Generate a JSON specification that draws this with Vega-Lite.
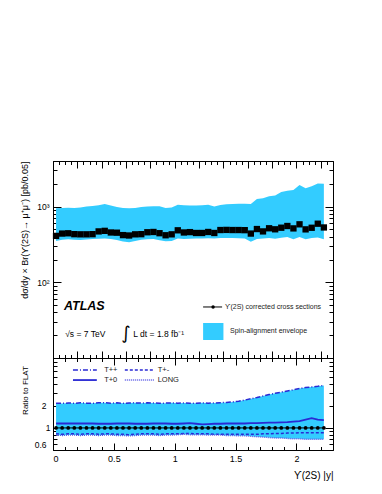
{
  "$schema": "https://vega.github.io/schema/vega-lite/v6.json",
  "padding": {"left": 19, "top": 160, "right": 10, "bottom": 5},
  "spacing": 0,
  "bounds": "flush",
  "config": {
    "font": "Liberation Sans",
    "view": {"stroke": "black", "strokeWidth": 1},
    "axis": {"domainColor": "black", "tickColor": "black", "labelColor": "black", "titleColor": "black", "labelFont": "Liberation Sans", "titleFont": "Liberation Sans", "titleFontWeight": "normal", "grid": false, "tickWidth": 1, "domainWidth": 1}
  },
  "datasets": {
    "xs": [
      {"x":0.025,"sigma":410,"lo":350,"hi":950},
      {"x":0.075,"sigma":440,"lo":365,"hi":960},
      {"x":0.125,"sigma":444,"lo":370,"hi":965},
      {"x":0.175,"sigma":432,"lo":365,"hi":960},
      {"x":0.225,"sigma":430,"lo":362,"hi":975},
      {"x":0.275,"sigma":430,"lo":368,"hi":1000},
      {"x":0.325,"sigma":432,"lo":372,"hi":1020},
      {"x":0.375,"sigma":470,"lo":375,"hi":1040},
      {"x":0.425,"sigma":478,"lo":380,"hi":1085},
      {"x":0.475,"sigma":455,"lo":372,"hi":1030},
      {"x":0.525,"sigma":452,"lo":362,"hi":990},
      {"x":0.575,"sigma":420,"lo":345,"hi":960},
      {"x":0.625,"sigma":415,"lo":338,"hi":950},
      {"x":0.675,"sigma":430,"lo":350,"hi":960},
      {"x":0.725,"sigma":432,"lo":365,"hi":985},
      {"x":0.775,"sigma":458,"lo":370,"hi":1000},
      {"x":0.825,"sigma":462,"lo":372,"hi":1010},
      {"x":0.875,"sigma":445,"lo":360,"hi":1010},
      {"x":0.925,"sigma":418,"lo":348,"hi":960},
      {"x":0.975,"sigma":430,"lo":350,"hi":975},
      {"x":1.025,"sigma":486,"lo":378,"hi":1060},
      {"x":1.075,"sigma":455,"lo":372,"hi":1040},
      {"x":1.125,"sigma":460,"lo":375,"hi":1030},
      {"x":1.175,"sigma":448,"lo":378,"hi":1035},
      {"x":1.225,"sigma":448,"lo":380,"hi":1040},
      {"x":1.275,"sigma":462,"lo":382,"hi":1060},
      {"x":1.325,"sigma":448,"lo":380,"hi":1000},
      {"x":1.375,"sigma":490,"lo":384,"hi":1050},
      {"x":1.425,"sigma":492,"lo":385,"hi":1075},
      {"x":1.475,"sigma":490,"lo":385,"hi":1085},
      {"x":1.525,"sigma":490,"lo":382,"hi":1090},
      {"x":1.575,"sigma":488,"lo":380,"hi":1090},
      {"x":1.625,"sigma":440,"lo":342,"hi":1080},
      {"x":1.675,"sigma":505,"lo":372,"hi":1260},
      {"x":1.725,"sigma":470,"lo":380,"hi":1290},
      {"x":1.775,"sigma":517,"lo":385,"hi":1370},
      {"x":1.825,"sigma":501,"lo":375,"hi":1400},
      {"x":1.875,"sigma":526,"lo":388,"hi":1560},
      {"x":1.925,"sigma":554,"lo":395,"hi":1620},
      {"x":1.975,"sigma":515,"lo":370,"hi":1660},
      {"x":2.025,"sigma":583,"lo":395,"hi":1930},
      {"x":2.075,"sigma":500,"lo":370,"hi":1750},
      {"x":2.125,"sigma":525,"lo":385,"hi":1850},
      {"x":2.175,"sigma":594,"lo":390,"hi":2020},
      {"x":2.225,"sigma":530,"lo":370,"hi":2000}
    ],
    "ratio": [
      {"x":0.025,"tpp":2.18,"tp0":1.15,"tpm":0.83,"lng":0.80,"flat":1},
      {"x":0.075,"tpp":2.16,"tp0":1.15,"tpm":0.82,"lng":0.79,"flat":1},
      {"x":0.125,"tpp":2.19,"tp0":1.15,"tpm":0.83,"lng":0.80,"flat":1},
      {"x":0.175,"tpp":2.17,"tp0":1.15,"tpm":0.83,"lng":0.80,"flat":1},
      {"x":0.225,"tpp":2.20,"tp0":1.15,"tpm":0.82,"lng":0.79,"flat":1},
      {"x":0.275,"tpp":2.18,"tp0":1.15,"tpm":0.83,"lng":0.80,"flat":1},
      {"x":0.325,"tpp":2.17,"tp0":1.15,"tpm":0.83,"lng":0.80,"flat":1},
      {"x":0.375,"tpp":2.20,"tp0":1.14,"tpm":0.82,"lng":0.79,"flat":1},
      {"x":0.425,"tpp":2.21,"tp0":1.14,"tpm":0.83,"lng":0.80,"flat":1},
      {"x":0.475,"tpp":2.18,"tp0":1.14,"tpm":0.83,"lng":0.80,"flat":1},
      {"x":0.525,"tpp":2.20,"tp0":1.15,"tpm":0.82,"lng":0.79,"flat":1},
      {"x":0.575,"tpp":2.17,"tp0":1.15,"tpm":0.82,"lng":0.79,"flat":1},
      {"x":0.625,"tpp":2.19,"tp0":1.15,"tpm":0.81,"lng":0.78,"flat":1},
      {"x":0.675,"tpp":2.20,"tp0":1.14,"tpm":0.82,"lng":0.79,"flat":1},
      {"x":0.725,"tpp":2.18,"tp0":1.14,"tpm":0.83,"lng":0.80,"flat":1},
      {"x":0.775,"tpp":2.20,"tp0":1.14,"tpm":0.83,"lng":0.80,"flat":1},
      {"x":0.825,"tpp":2.19,"tp0":1.15,"tpm":0.83,"lng":0.80,"flat":1},
      {"x":0.875,"tpp":2.17,"tp0":1.15,"tpm":0.82,"lng":0.79,"flat":1},
      {"x":0.925,"tpp":2.18,"tp0":1.15,"tpm":0.83,"lng":0.80,"flat":1},
      {"x":0.975,"tpp":2.20,"tp0":1.14,"tpm":0.83,"lng":0.80,"flat":1},
      {"x":1.025,"tpp":2.18,"tp0":1.14,"tpm":0.83,"lng":0.81,"flat":1},
      {"x":1.075,"tpp":2.19,"tp0":1.15,"tpm":0.84,"lng":0.82,"flat":1},
      {"x":1.125,"tpp":2.17,"tp0":1.16,"tpm":0.84,"lng":0.81,"flat":1},
      {"x":1.175,"tpp":2.18,"tp0":1.14,"tpm":0.83,"lng":0.81,"flat":1},
      {"x":1.225,"tpp":2.20,"tp0":1.12,"tpm":0.83,"lng":0.81,"flat":1},
      {"x":1.275,"tpp":2.18,"tp0":1.13,"tpm":0.83,"lng":0.80,"flat":1},
      {"x":1.325,"tpp":2.19,"tp0":1.14,"tpm":0.82,"lng":0.80,"flat":1},
      {"x":1.375,"tpp":2.21,"tp0":1.14,"tpm":0.82,"lng":0.80,"flat":1},
      {"x":1.425,"tpp":2.23,"tp0":1.15,"tpm":0.82,"lng":0.79,"flat":1},
      {"x":1.475,"tpp":2.26,"tp0":1.15,"tpm":0.82,"lng":0.79,"flat":1},
      {"x":1.525,"tpp":2.32,"tp0":1.15,"tpm":0.82,"lng":0.78,"flat":1},
      {"x":1.575,"tpp":2.40,"tp0":1.15,"tpm":0.82,"lng":0.78,"flat":1},
      {"x":1.625,"tpp":2.50,"tp0":1.16,"tpm":0.82,"lng":0.77,"flat":1},
      {"x":1.675,"tpp":2.60,"tp0":1.16,"tpm":0.82,"lng":0.76,"flat":1},
      {"x":1.725,"tpp":2.72,"tp0":1.17,"tpm":0.83,"lng":0.75,"flat":1},
      {"x":1.775,"tpp":2.85,"tp0":1.18,"tpm":0.83,"lng":0.74,"flat":1},
      {"x":1.825,"tpp":2.97,"tp0":1.18,"tpm":0.84,"lng":0.73,"flat":1},
      {"x":1.875,"tpp":3.08,"tp0":1.19,"tpm":0.84,"lng":0.73,"flat":1},
      {"x":1.925,"tpp":3.20,"tp0":1.20,"tpm":0.85,"lng":0.72,"flat":1},
      {"x":1.975,"tpp":3.32,"tp0":1.22,"tpm":0.85,"lng":0.71,"flat":1},
      {"x":2.025,"tpp":3.45,"tp0":1.24,"tpm":0.86,"lng":0.71,"flat":1},
      {"x":2.075,"tpp":3.55,"tp0":1.30,"tpm":0.86,"lng":0.70,"flat":1},
      {"x":2.125,"tpp":3.63,"tp0":1.36,"tpm":0.86,"lng":0.70,"flat":1},
      {"x":2.175,"tpp":3.70,"tp0":1.30,"tpm":0.86,"lng":0.70,"flat":1},
      {"x":2.225,"tpp":3.80,"tp0":1.28,"tpm":0.86,"lng":0.70,"flat":1}
    ]
  },
  "vconcat": [
    {
      "width": 280,
      "height": 197,
      "resolve": {"axis": {"x": "independent", "y": "independent"}},
      "layer": [
        {
          "data": {"name": "xs"},
          "mark": {"type": "area", "color": "#33ccff", "opacity": 1},
          "encoding": {
            "x": {"field": "x", "type": "quantitative", "scale": {"domain": [0, 2.3], "nice": false, "zero": false},
              "axis": {"orient": "bottom", "title": null, "labels": false,
                "values": [0,0.05,0.1,0.15,0.2,0.25,0.3,0.35,0.4,0.45,0.5,0.55,0.6,0.65,0.7,0.75,0.8,0.85,0.9,0.95,1,1.05,1.1,1.15,1.2,1.25,1.3,1.35,1.4,1.45,1.5,1.55,1.6,1.65,1.7,1.75,1.8,1.85,1.9,1.95,2,2.05,2.1,2.15,2.2,2.25,2.3],
                "tickSize": {"condition": {"test": "abs(datum.value*5-round(datum.value*5))<0.001", "value": -7}, "value": -3.5}}},
            "y": {"field": "lo", "type": "quantitative", "scale": {"type": "log", "domain": [10, 4000], "nice": false},
              "axis": {"orient": "left", "title": "dσ/dy × Br(ϒ(2S)→ μ⁺μ⁻) [pb/0.05]",
                "titleFontSize": 9, "titleAngle": -90, "titleAlign": "right", "titleBaseline": "bottom", "titleX": -24, "titleY": 0,
                "values": [20,30,40,50,60,70,80,90,100,200,300,400,500,600,700,800,900,1000,2000,3000,4000],
                "labelExpr": "datum.value==100 ? '10²' : (datum.value==1000 ? '10³' : '')",
                "labelFontSize": 8.5, "labelPadding": 12,
                "tickSize": {"condition": {"test": "datum.value==100 || datum.value==1000", "value": -8}, "value": -4}}},
            "y2": {"field": "hi"}
          }
        },
        {
          "data": {"name": "xs"},
          "mark": {"type": "point", "shape": "square", "filled": true, "color": "black", "size": 40, "opacity": 1},
          "encoding": {
            "x": {"field": "x", "type": "quantitative",
              "axis": {"orient": "top", "title": null, "labels": false, "domain": false,
                "values": [0,0.05,0.1,0.15,0.2,0.25,0.3,0.35,0.4,0.45,0.5,0.55,0.6,0.65,0.7,0.75,0.8,0.85,0.9,0.95,1,1.05,1.1,1.15,1.2,1.25,1.3,1.35,1.4,1.45,1.5,1.55,1.6,1.65,1.7,1.75,1.8,1.85,1.9,1.95,2,2.05,2.1,2.15,2.2,2.25,2.3],
                "tickSize": {"condition": {"test": "abs(datum.value*5-round(datum.value*5))<0.001", "value": -7}, "value": -3.5}}},
            "y": {"field": "sigma", "type": "quantitative",
              "axis": {"orient": "right", "title": null, "labels": false, "domain": false,
                "values": [20,30,40,50,60,70,80,90,100,200,300,400,500,600,700,800,900,1000,2000,3000,4000],
                "tickSize": {"condition": {"test": "datum.value==100 || datum.value==1000", "value": -8}, "value": -4}}}
          }
        },
        {
          "data": {"values": [{"x": 1.233, "x2": 1.389, "y": 47.2}]},
          "mark": {"type": "rule", "color": "black", "strokeWidth": 1},
          "encoding": {"x": {"field": "x", "type": "quantitative", "axis": null}, "x2": {"field": "x2"}, "y": {"field": "y", "type": "quantitative", "axis": null}}
        },
        {
          "data": {"values": [{"x": 1.315, "y": 47.2}]},
          "mark": {"type": "point", "shape": "circle", "filled": true, "color": "black", "size": 12, "opacity": 1},
          "encoding": {"x": {"field": "x", "type": "quantitative", "axis": null}, "y": {"field": "y", "type": "quantitative", "axis": null}}
        },
        {
          "data": {"values": [{"x": 1.233, "x2": 1.4, "y": 17.3, "y2": 29}]},
          "mark": {"type": "rect", "color": "#33ccff", "opacity": 1},
          "encoding": {"x": {"field": "x", "type": "quantitative", "axis": null}, "x2": {"field": "x2"}, "y": {"field": "y", "type": "quantitative", "axis": null}, "y2": {"field": "y2"}}
        },
        {
          "data": {"values": [{"x": 1.413, "y": 47.2, "t": "ϒ(2S) corrected cross sections"}, {"x": 1.454, "y": 22.7, "t": "Spin-alignment envelope"}]},
          "mark": {"type": "text", "align": "left", "baseline": "middle", "fontSize": 7, "color": "#222"},
          "encoding": {"x": {"field": "x", "type": "quantitative", "axis": null}, "y": {"field": "y", "type": "quantitative", "axis": null}, "text": {"field": "t"}}
        },
        {
          "data": {"values": [{"x": 0.09, "y": 48.6, "t": "ATLAS"}]},
          "mark": {"type": "text", "align": "left", "baseline": "middle", "fontSize": 12.5, "fontWeight": "bold", "fontStyle": "italic", "color": "black"},
          "encoding": {"x": {"field": "x", "type": "quantitative", "axis": null}, "y": {"field": "y", "type": "quantitative", "axis": null}, "text": {"field": "t"}}
        },
        {
          "data": {"values": [{"x": 0.1, "y": 20.7, "t": "√s = 7 TeV"}, {"x": 0.66, "y": 20.7, "t": "L dt = 1.8 fb⁻¹"}]},
          "mark": {"type": "text", "align": "left", "baseline": "middle", "fontSize": 8.5, "color": "black"},
          "encoding": {"x": {"field": "x", "type": "quantitative", "axis": null}, "y": {"field": "y", "type": "quantitative", "axis": null}, "text": {"field": "t"}}
        },
        {
          "data": {"values": [{"x": 0.6, "y": 20.7, "t": "∫"}]},
          "mark": {"type": "text", "align": "center", "baseline": "middle", "fontSize": 18, "font": "DejaVu Sans", "color": "black"},
          "encoding": {"x": {"field": "x", "type": "quantitative", "axis": null}, "y": {"field": "y", "type": "quantitative", "axis": null}, "text": {"field": "t"}}
        }
      ]
    },
    {
      "width": 280,
      "height": 92,
      "resolve": {"axis": {"x": "independent", "y": "independent"}},
      "layer": [
        {
          "data": {"name": "ratio"},
          "mark": {"type": "area", "color": "#33ccff", "opacity": 1},
          "encoding": {
            "x": {"field": "x", "type": "quantitative", "scale": {"domain": [0, 2.3], "nice": false, "zero": false},
              "axis": {"orient": "bottom", "title": "ϒ(2S) |y|", "titleFontSize": 10, "titleAnchor": "end", "titleAlign": "right", "titleX": 280, "titleY": 25, "titleBaseline": "middle",
                "values": [0,0.1,0.2,0.3,0.4,0.5,0.6,0.7,0.8,0.9,1,1.1,1.2,1.3,1.4,1.5,1.6,1.7,1.8,1.9,2,2.1,2.2,2.3],
                "labelExpr": "abs(datum.value*2-round(datum.value*2))<0.001 ? format(datum.value, '~g') : ''",
                "labelFontSize": 9, "labelPadding": 11,
                "tickSize": {"condition": {"test": "abs(datum.value*2-round(datum.value*2))<0.001", "value": -7}, "value": -3.5}}},
            "y": {"field": "lng", "type": "quantitative", "scale": {"type": "log", "domain": [0.5, 9], "nice": false},
              "axis": {"orient": "left", "title": "Ratio to FLAT", "titleFontSize": 8, "titleAngle": -90, "titleAlign": "center", "titleBaseline": "bottom", "titleX": -24, "titleY": 32,
                "values": [0.6,0.7,0.8,0.9,1,2,3,4,5,6,7,8,9],
                "labelExpr": "(datum.value==0.6 || datum.value==1 || datum.value==2) ? format(datum.value, '~g') : ''",
                "labelFontSize": 8.5, "labelPadding": 11,
                "tickSize": {"condition": {"test": "datum.value==1", "value": -8}, "value": -4}}},
            "y2": {"field": "tpp"}
          }
        },
        {
          "data": {"name": "ratio"},
          "mark": {"type": "line", "color": "#2a2ad4", "strokeWidth": 1.5, "strokeDash": [5, 2, 1, 2]},
          "encoding": {
            "x": {"field": "x", "type": "quantitative",
              "axis": {"orient": "top", "title": null, "labels": false, "domain": false,
                "values": [0,0.1,0.2,0.3,0.4,0.5,0.6,0.7,0.8,0.9,1,1.1,1.2,1.3,1.4,1.5,1.6,1.7,1.8,1.9,2,2.1,2.2,2.3],
                "tickSize": {"condition": {"test": "abs(datum.value*2-round(datum.value*2))<0.001", "value": -7}, "value": -3.5}}},
            "y": {"field": "tpp", "type": "quantitative",
              "axis": {"orient": "right", "title": null, "labels": false, "domain": false,
                "values": [0.6,0.7,0.8,0.9,1,2,3,4,5,6,7,8,9],
                "tickSize": {"condition": {"test": "datum.value==1", "value": -8}, "value": -4}}}
          }
        },
        {
          "data": {"name": "ratio"},
          "mark": {"type": "line", "color": "#2a2ad4", "strokeWidth": 1.8},
          "encoding": {"x": {"field": "x", "type": "quantitative", "axis": null}, "y": {"field": "tp0", "type": "quantitative", "axis": null}}
        },
        {
          "data": {"name": "ratio"},
          "mark": {"type": "line", "color": "#2a2ad4", "strokeWidth": 1.5, "strokeDash": [3, 2]},
          "encoding": {"x": {"field": "x", "type": "quantitative", "axis": null}, "y": {"field": "tpm", "type": "quantitative", "axis": null}}
        },
        {
          "data": {"name": "ratio"},
          "mark": {"type": "line", "color": "#5a5ae6", "strokeWidth": 1.5, "strokeDash": [1, 1]},
          "encoding": {"x": {"field": "x", "type": "quantitative", "axis": null}, "y": {"field": "lng", "type": "quantitative", "axis": null}}
        },
        {
          "data": {"name": "ratio"},
          "mark": {"type": "line", "color": "black", "strokeWidth": 1, "point": {"filled": true, "color": "black", "size": 14, "opacity": 1}},
          "encoding": {"x": {"field": "x", "type": "quantitative", "axis": null}, "y": {"field": "flat", "type": "quantitative", "axis": null}}
        },
        {
          "data": {"values": [{"x": 0.164, "x2": 0.36, "y": 6.17}]},
          "mark": {"type": "rule", "color": "#2a2ad4", "strokeWidth": 1.5, "strokeDash": [5, 2, 1, 2]},
          "encoding": {"x": {"field": "x", "type": "quantitative", "axis": null}, "x2": {"field": "x2"}, "y": {"field": "y", "type": "quantitative", "axis": null}}
        },
        {
          "data": {"values": [{"x": 0.164, "x2": 0.36, "y": 4.5}]},
          "mark": {"type": "rule", "color": "#2a2ad4", "strokeWidth": 1.8},
          "encoding": {"x": {"field": "x", "type": "quantitative", "axis": null}, "x2": {"field": "x2"}, "y": {"field": "y", "type": "quantitative", "axis": null}}
        },
        {
          "data": {"values": [{"x": 0.59, "x2": 0.83, "y": 6.17}]},
          "mark": {"type": "rule", "color": "#2a2ad4", "strokeWidth": 1.5, "strokeDash": [3, 2]},
          "encoding": {"x": {"field": "x", "type": "quantitative", "axis": null}, "x2": {"field": "x2"}, "y": {"field": "y", "type": "quantitative", "axis": null}}
        },
        {
          "data": {"values": [{"x": 0.59, "x2": 0.83, "y": 4.5}]},
          "mark": {"type": "rule", "color": "#5a5ae6", "strokeWidth": 1.5, "strokeDash": [1, 1]},
          "encoding": {"x": {"field": "x", "type": "quantitative", "axis": null}, "x2": {"field": "x2"}, "y": {"field": "y", "type": "quantitative", "axis": null}}
        },
        {
          "data": {"values": [{"x": 0.42, "y": 6.17, "t": "T++"}, {"x": 0.86, "y": 6.17, "t": "T+-"}, {"x": 0.42, "y": 4.5, "t": "T+0"}, {"x": 0.86, "y": 4.5, "t": "LONG"}]},
          "mark": {"type": "text", "align": "left", "baseline": "middle", "fontSize": 7.5, "color": "#222"},
          "encoding": {"x": {"field": "x", "type": "quantitative", "axis": null}, "y": {"field": "y", "type": "quantitative", "axis": null}, "text": {"field": "t"}}
        }
      ]
    }
  ]
}
